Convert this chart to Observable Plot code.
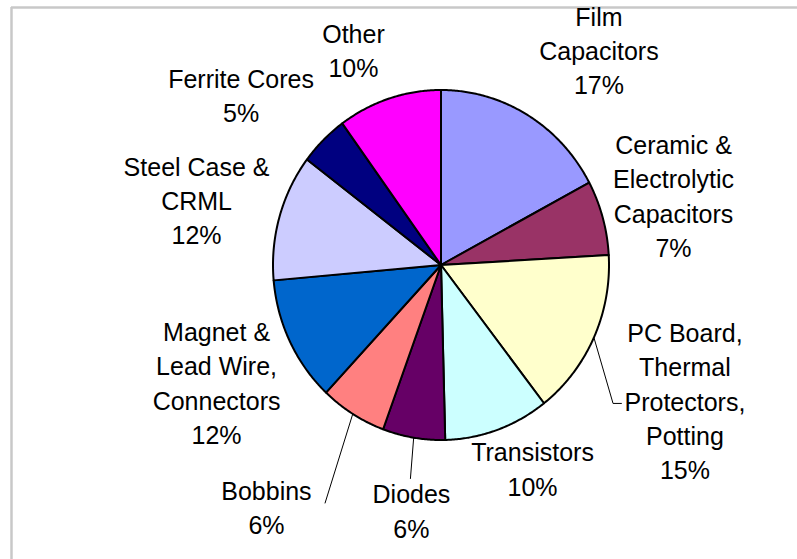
<!DOCTYPE html>
<html><head><meta charset="utf-8">
<script src="https://cdn.jsdelivr.net/npm/d3@7"></script>
<script src="https://cdn.jsdelivr.net/npm/@observablehq/plot@0.6"></script>
<style>body{margin:0;background:#fff} svg{display:block}</style>
</head><body><div id="chart"></div>
<script>
// ---- data (clockwise from 12 o'clock) ----
const categories = ["Film Capacitors", "Ceramic & Electrolytic Capacitors", "PC Board, Thermal Protectors, Potting", "Transistors", "Diodes", "Bobbins", "Magnet & Lead Wire, Connectors", "Steel Case & CRML", "Ferrite Cores", "Other"];
const values = [17.2, 6.9, 15.4, 10.1, 6.0, 6.4, 11.6, 11.7, 4.7, 10.0];
const labelNames = ["Film\nCapacitors", "Ceramic &\nElectrolytic\nCapacitors", "PC Board,\nThermal\nProtectors,\nPotting", "Transistors", "Diodes", "Bobbins", "Magnet &\nLead Wire,\nConnectors", "Steel Case &\nCRML", "Ferrite Cores", "Other"];
const colors = ["#9999FF", "#993366", "#FFFFCC", "#CCFFFF", "#660066", "#FF8080", "#0066CC", "#CCCCFF", "#000080", "#FF00FF"];

// ---- layout (pie units: radius 1, y up) ----
const labelPos = [[0.94,1.234],[1.384,0.403],[1.452,-0.769],[0.545,-1.157],[-0.176,-1.397],[-1.039,-1.376],[-1.336,-0.666],[-1.455,0.377],[-1.19,0.977],[-0.521,1.234]];
const leaderEnds = {2: [[1.024,-0.791],[1.074,-0.791]], 4: [[-0.182,-1.22]], 5: [[-0.69,-1.36]]};

const W = 797, H = 559, cx = 440.5, cy = 264.5, rx = 168, ry = 175;

const total = d3.sum(values);
let acc = 0;
const slicePts = [];
const mids = [];
values.forEach((v, i) => {
  const a0 = acc / total * 2 * Math.PI;
  acc += v;
  const a1 = acc / total * 2 * Math.PI;
  mids.push((a0 + a1) / 2);
  slicePts.push({name: categories[i], color: colors[i], x: 0, y: 0});
  const n = Math.max(2, Math.ceil((a1 - a0) / (Math.PI / 360)));
  for (let k = 0; k <= n; k++) {
    const a = a0 + (a1 - a0) * k / n;
    slicePts.push({name: categories[i], color: colors[i], x: Math.sin(a), y: Math.cos(a)});
  }
  slicePts.push({name: categories[i], color: colors[i], x: 0, y: 0});
});

const labels = categories.map((c, i) => ({
  text: labelNames[i] + "\n" + Math.round(values[i] / total * 100) + "%",
  x: labelPos[i][0], y: labelPos[i][1]
}));

const leaders = [];
Object.entries(leaderEnds).forEach(([i, pts]) => {
  const m = mids[+i];
  leaders.push({id: i, x: Math.sin(m), y: Math.cos(m)});
  pts.forEach(p => leaders.push({id: i, x: p[0], y: p[1]}));
});

const chart = Plot.plot({
  width: W, height: H, margin: 0,
  x: {domain: [-cx / rx, (W - cx) / rx], axis: null},
  y: {domain: [-(H - cy) / ry, cy / ry], axis: null},
  color: {type: "identity"},
  style: {background: "#fff"},
  marks: [
    Plot.ruleX([(11 - cx) / rx], {y1: (cy - 7) / ry, y2: -(H - cy) / ry, stroke: "#c8c8c8", strokeWidth: 2.5}),
    Plot.ruleY([(cy - 7) / ry], {x1: (11 - cx) / rx, x2: (W - cx) / rx, stroke: "#c8c8c8", strokeWidth: 2.5}),
    Plot.line(slicePts, {x: "x", y: "y", z: "name", fill: "color", stroke: "#000", strokeWidth: 2, strokeLinejoin: "round"}),
    Plot.line(leaders, {x: "x", y: "y", z: "id", stroke: "#000", strokeWidth: 1}),
    Plot.text(labels, {x: "x", y: "y", text: "text", fontSize: 25, lineHeight: 1.372, fontFamily: "'Liberation Sans', Arial, sans-serif", fill: "#000", textAnchor: "middle"})
  ]
});
document.getElementById("chart").append(chart);
</script>
</body></html>
